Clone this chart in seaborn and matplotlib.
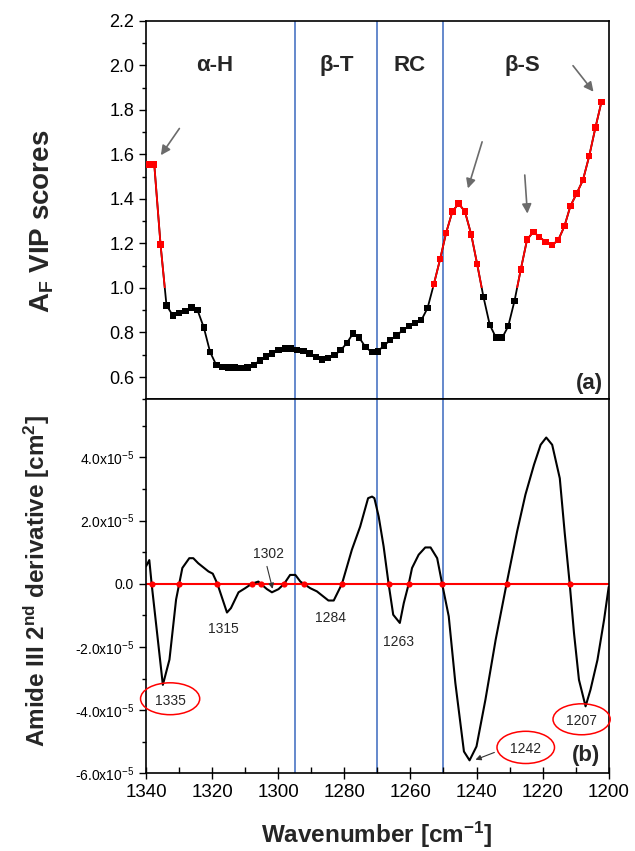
import numpy as np
import pandas as pd
import matplotlib
matplotlib.use("Agg")
import matplotlib.pyplot as plt
import seaborn as sns
from matplotlib.patches import Ellipse, Rectangle
from matplotlib.ticker import MultipleLocator, FuncFormatter

# ---------------- data ----------------
vip_wn = [1339.4, 1337.5, 1335.6, 1333.8, 1331.9, 1330.0, 1328.1, 1326.2, 1324.4, 1322.5,
          1320.6, 1318.7, 1316.8, 1315.0, 1313.1, 1311.2, 1309.3, 1307.4, 1305.6, 1303.7,
          1301.8, 1299.9, 1298.0, 1296.2, 1294.3, 1292.4, 1290.5, 1288.6, 1286.8, 1284.9,
          1283.0, 1281.1, 1279.2, 1277.4, 1275.5, 1273.6, 1271.7, 1269.8, 1268.0, 1266.1,
          1264.2, 1262.3, 1260.4, 1258.6, 1256.7, 1254.8, 1252.9, 1251.0, 1249.2, 1247.3,
          1245.4, 1243.5, 1241.6, 1239.8, 1237.9, 1236.0, 1234.1, 1232.2, 1230.4, 1228.5,
          1226.6, 1224.7, 1222.8, 1221.0, 1219.1, 1217.2, 1215.3, 1213.4, 1211.6, 1209.7,
          1207.8, 1205.9, 1204.0, 1202.2]
vip_scores = [1.555, 1.555, 1.195, 0.922, 0.877, 0.888, 0.897, 0.912, 0.900, 0.822,
              0.712, 0.653, 0.645, 0.642, 0.642, 0.640, 0.642, 0.653, 0.675, 0.693,
              0.705, 0.720, 0.728, 0.728, 0.720, 0.717, 0.705, 0.690, 0.678, 0.685,
              0.698, 0.720, 0.753, 0.795, 0.777, 0.735, 0.712, 0.715, 0.742, 0.765,
              0.787, 0.810, 0.828, 0.843, 0.855, 0.910, 1.017, 1.130, 1.247, 1.343,
              1.379, 1.343, 1.240, 1.107, 0.960, 0.835, 0.777, 0.777, 0.828, 0.942,
              1.083, 1.217, 1.252, 1.229, 1.207, 1.192, 1.214, 1.277, 1.367, 1.424,
              1.484, 1.592, 1.721, 1.835]
vip_threshold = 1.0

deriv_wn = [1340.0, 1339.0, 1338.3, 1334.9, 1332.9, 1330.9, 1329.0, 1326.9, 1325.7, 1324.2,
            1321.1, 1319.8, 1318.4, 1315.5, 1314.3, 1312.0, 1310.0, 1308.0, 1306.0, 1305.3,
            1303.4, 1301.9, 1299.9, 1298.2, 1296.4, 1294.8, 1293.3, 1292.3, 1290.3, 1288.3,
            1284.8, 1283.2, 1280.7, 1277.7, 1275.2, 1272.8, 1271.6, 1270.9, 1269.6, 1268.1,
            1266.6, 1265.2, 1263.2, 1262.0, 1260.5, 1259.5, 1257.5, 1255.5, 1253.9, 1251.9,
            1250.4, 1248.4, 1246.4, 1243.8, 1242.1, 1240.0, 1237.3, 1234.2, 1230.9, 1227.7,
            1225.2, 1222.6, 1220.6, 1218.9, 1217.1, 1214.8, 1213.3, 1211.8, 1210.5, 1209.0,
            1207.0, 1205.5, 1203.4, 1201.4, 1200.0]
deriv_e5 = [0.55, 0.75, 0.00, -3.20, -2.40, -0.50, 0.50, 0.81, 0.81, 0.65,
            0.39, 0.32, 0.00, -0.91, -0.77, -0.27, -0.14, 0.00, 0.07, 0.00,
            -0.17, -0.27, -0.17, 0.00, 0.28, 0.28, 0.07, 0.00, -0.14, -0.24,
            -0.53, -0.53, 0.00, 1.08, 1.81, 2.71, 2.76, 2.71, 2.13, 1.18,
            0.00, -0.98, -1.24, -0.61, 0.00, 0.50, 0.92, 1.15, 1.15, 0.81,
            0.00, -1.03, -3.14, -5.31, -5.59, -5.15, -3.67, -1.77, 0.00, 1.66,
            2.82, 3.77, 4.40, 4.63, 4.40, 3.34, 1.60, 0.00, -1.56, -3.04,
            -3.88, -3.35, -2.41, -1.14, -0.10]
zero_cross_wn = [1338.3, 1330.0, 1318.4, 1308.0, 1305.3, 1298.2, 1292.3, 1280.7,
                 1266.6, 1260.5, 1250.4, 1230.9, 1211.8]

region_lines = [1295, 1270, 1250]
region_labels = ["α-H", "β-T", "RC", "β-S"]
region_label_wn = [1319.1, 1282.2, 1260.2, 1226.2]

x_ticks = [1340, 1320, 1300, 1280, 1260, 1240, 1220, 1200]
vip_ticks = [0.6, 0.8, 1.0, 1.2, 1.4, 1.6, 1.8, 2.0, 2.2]
deriv_ticks_e5 = [-6, -4, -2, 0, 2, 4]

# ---------------- style ----------------
sns.set_style("ticks")
plt.rcParams["font.family"] = ["Liberation Sans", "DejaVu Sans"]
plt.rcParams["mathtext.fontset"] = "custom"
plt.rcParams["mathtext.rm"] = "Liberation Sans"
plt.rcParams["mathtext.it"] = "Liberation Sans:italic"
plt.rcParams["mathtext.bf"] = "Liberation Sans:bold"
plt.rcParams["axes.edgecolor"] = "black"
plt.rcParams["xtick.color"] = "black"
plt.rcParams["ytick.color"] = "black"

W, H = 635, 851
fig = plt.figure(figsize=(W / 100, H / 100), dpi=100)
gs = fig.add_gridspec(2, 1, left=146 / W, right=608.7 / W, top=1 - 20.7 / H,
                      bottom=1 - 773.3 / H, hspace=0, height_ratios=[378.6, 374])
ax1 = fig.add_subplot(gs[0])
ax2 = fig.add_subplot(gs[1], sharex=ax1)

blue = "#4a74c4"
gray = "#6b6b6b"

# ---------------- top panel ----------------
df_top = pd.DataFrame({"wn": vip_wn, "vip": vip_scores})
df_top["grp"] = np.where(df_top["vip"] > vip_threshold, "high", "low")

sns.lineplot(data=df_top, x="wn", y="vip", sort=False, estimator=None,
             color="black", lw=1.3, ax=ax1)
sns.lineplot(data=df_top, x="wn", y="vip", sort=False, estimator=None,
             color="red", lw=1.3, ax=ax1)
red_line = ax1.lines[-1]
red_line.set_clip_path(Rectangle((1100, vip_threshold), 300, 5, transform=ax1.transData))
sns.scatterplot(data=df_top, x="wn", y="vip", hue="grp",
                palette={"high": "red", "low": "black"}, marker="s", s=21,
                linewidth=0, legend=False, ax=ax1, zorder=3)

for w in region_lines:
    ax1.axvline(w, color=blue, lw=1.2, zorder=0)
for lab, w in zip(region_labels, region_label_wn):
    ax1.text(w, 2.0, lab, ha="center", va="center", fontsize=16, fontweight="bold")

arrows_top = [((1329.9, 1.716), (1335.5, 1.596)),
              ((1238.3, 1.656), (1242.6, 1.447)),
              ((1225.4, 1.507), (1224.6, 1.334)),
              ((1210.8, 1.998), (1204.6, 1.881))]
for start, end in arrows_top:
    ax1.annotate("", xy=end, xytext=start,
                 arrowprops=dict(arrowstyle="-|>", color=gray, lw=1.2, mutation_scale=14,
                                 shrinkA=0, shrinkB=0))

ax1.text(1205.9, 0.57, "(a)", ha="center", va="center", fontsize=16, fontweight="bold")

ax1.set_ylim(0.5, 2.2)
ax1.set_yticks(vip_ticks)
ax1.yaxis.set_minor_locator(MultipleLocator(0.1))
ax1.yaxis.set_major_formatter(FuncFormatter(lambda v, p: f"{v:.1f}"))
ax1.tick_params(axis="y", which="major", direction="out", length=5, width=1, labelsize=13)
ax1.tick_params(axis="y", which="minor", direction="out", length=3, width=1)
ax1.tick_params(axis="x", which="both", bottom=False, top=False, labelbottom=False)
ax1.set_xlabel("")
ax1.set_ylabel("")

# ---------------- bottom panel ----------------
df_bot = pd.DataFrame({"wn": deriv_wn, "d2": np.array(deriv_e5) * 1e-5})
ax2.axhline(0, color="red", lw=1.5, zorder=1)
sns.lineplot(data=df_bot, x="wn", y="d2", sort=False, estimator=None,
             color="black", lw=1.5, ax=ax2, zorder=2)
sns.scatterplot(x=zero_cross_wn, y=[0.0] * len(zero_cross_wn), color="red", s=20,
                linewidth=0, ax=ax2, zorder=3)
for w in region_lines:
    ax2.axvline(w, color=blue, lw=1.2, zorder=0)

ann_fs = 10
# red ellipses
for (cx, cy, ew, eh, txt, ty) in [(1332.7, -3.64, 17.9, 1.01, "1335", -3.70),
                                   (1225.1, -5.18, 17.4, 1.02, "1242", -5.22),
                                   (1208.2, -4.29, 17.3, 0.98, "1207", -4.33)]:
    ax2.add_patch(Ellipse((cx, cy * 1e-5), width=ew, height=eh * 1e-5,
                          transform=ax2.transData, fill=False, edgecolor="red",
                          lw=1.1, clip_on=False, zorder=4))
    ax2.text(cx, ty * 1e-5, txt, ha="center", va="center", fontsize=ann_fs, zorder=5)

ax2.text(1316.6, -1.43e-5, "1315", ha="center", va="center", fontsize=ann_fs)
ax2.text(1302.9, 0.95e-5, "1302", ha="center", va="center", fontsize=ann_fs)
ax2.text(1284.2, -1.09e-5, "1284", ha="center", va="center", fontsize=ann_fs)
ax2.text(1263.5, -1.83e-5, "1263", ha="center", va="center", fontsize=ann_fs)
ax2.annotate("", xy=(1301.7, -0.16e-5), xytext=(1303.4, 0.55e-5),
             arrowprops=dict(arrowstyle="-|>", color="#333333", lw=0.8, mutation_scale=8,
                             shrinkA=0, shrinkB=0))
ax2.annotate("", xy=(1240.3, -5.57e-5), xytext=(1234.6, -5.34e-5),
             arrowprops=dict(arrowstyle="-|>", color="#333333", lw=0.8, mutation_scale=8,
                             shrinkA=0, shrinkB=0))
ax2.text(1206.9, -5.44e-5, "(b)", ha="center", va="center", fontsize=16, fontweight="bold")


def fmt_e5(v, p):
    m = v / 1e-5
    if abs(m) < 1e-9:
        return "0.0"
    return f"{m:.1f}x10$^{{-5}}$"


ax2.set_ylim(-6e-5, 5.84e-5)
ax2.set_yticks([t * 1e-5 for t in deriv_ticks_e5])
ax2.yaxis.set_minor_locator(MultipleLocator(1e-5))
ax2.yaxis.set_major_formatter(FuncFormatter(fmt_e5))
ax2.tick_params(axis="y", which="major", direction="out", length=5, width=1, labelsize=10)
ax2.tick_params(axis="y", which="minor", direction="out", length=3, width=1)

ax2.set_xlim(1340, 1200)
ax2.set_xticks(x_ticks)
ax2.xaxis.set_minor_locator(MultipleLocator(10))
ax2.tick_params(axis="x", which="major", direction="inout", length=8, width=1, labelsize=13.5)
ax2.tick_params(axis="x", which="minor", direction="in", length=4, width=1)
ax2.set_xlabel("")
ax2.set_ylabel("")

for ax in (ax1, ax2):
    for sp in ax.spines.values():
        sp.set_visible(True)
        sp.set_linewidth(1.2)
        sp.set_color("black")

# ---------------- axis titles ----------------
fig.text(42 / W, 1 - 221.7 / H, r"$\mathbf{A_F}$ VIP scores", rotation=90,
         ha="center", va="center", fontsize=20, fontweight="bold")
fig.text(37 / W, 1 - 580.8 / H, r"Amide III 2$^{\mathbf{nd}}$ derivative [cm$^{\mathbf{2}}$]",
         rotation=90, ha="center", va="center", fontsize=17.5, fontweight="bold")
fig.text(376.7 / W, 1 - 843 / H, r"Wavenumber [cm$^{\mathbf{-1}}$]",
         ha="center", va="baseline", fontsize=17.5, fontweight="bold")

fig.savefig("out.png", dpi=100)
